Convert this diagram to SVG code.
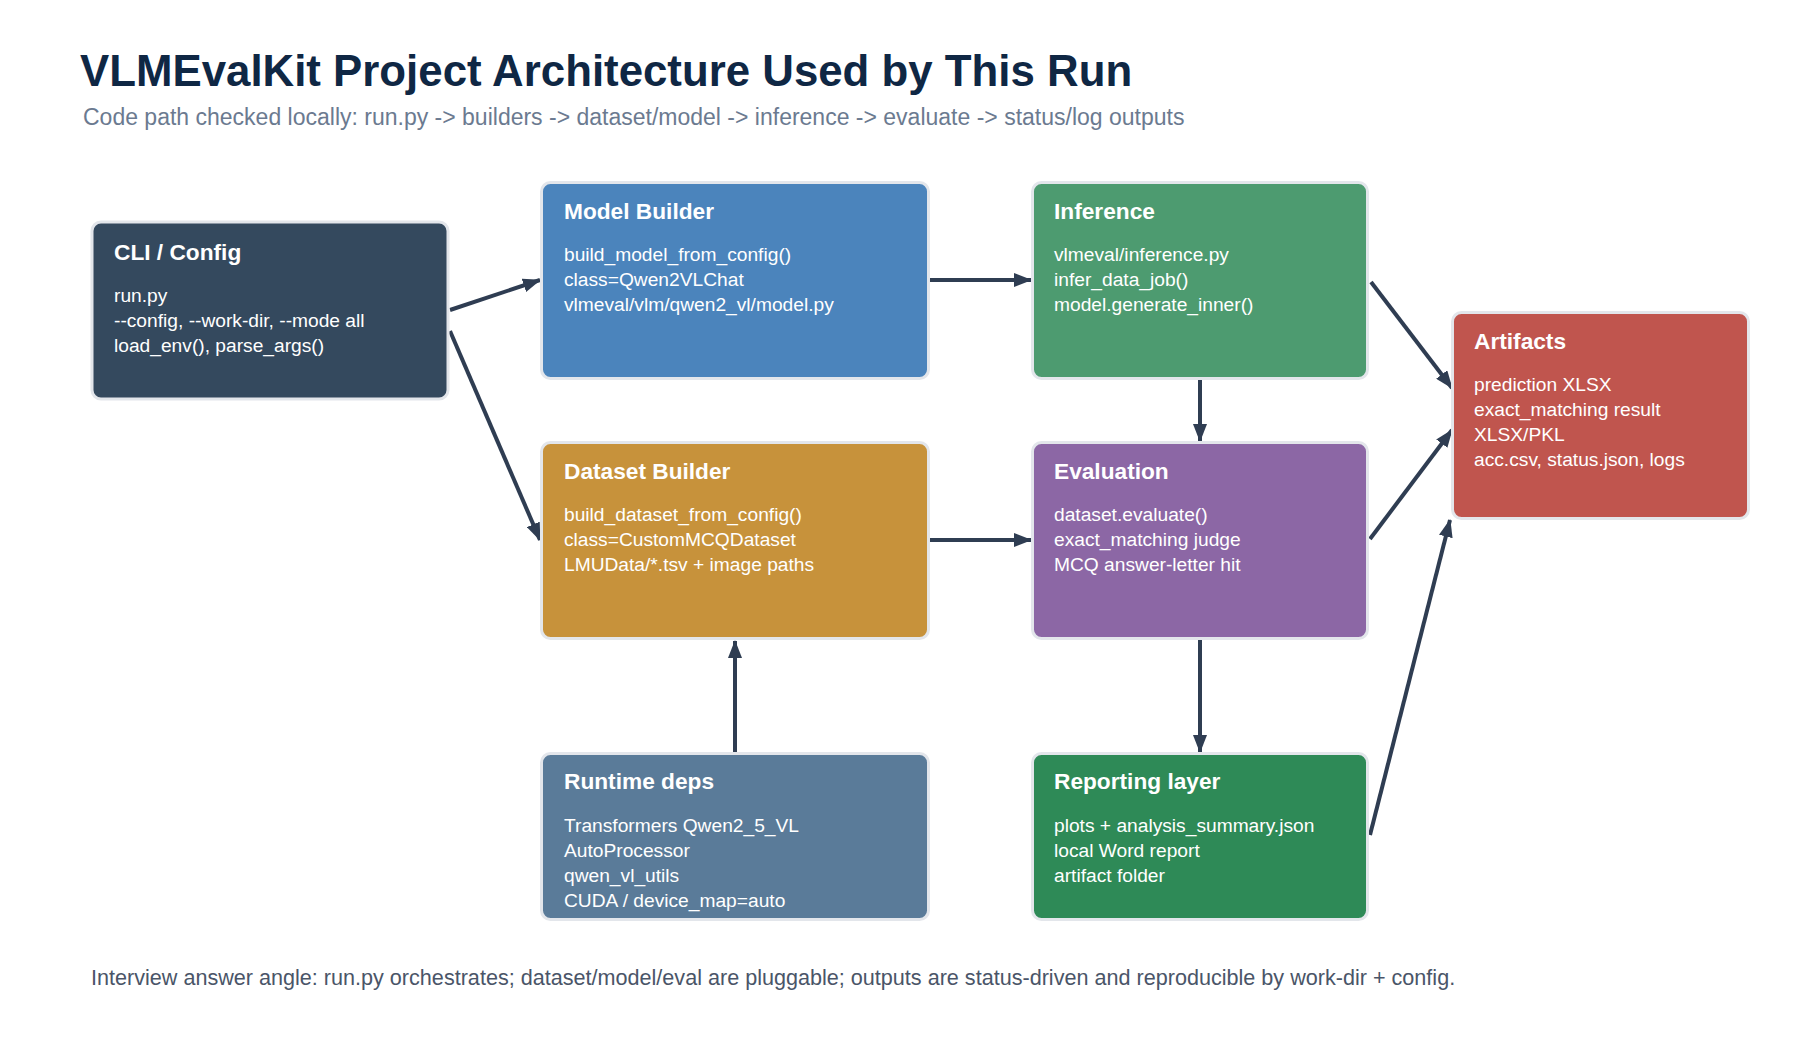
<svg xmlns="http://www.w3.org/2000/svg" width="1800" height="1050" viewBox="0 0 1800 1050">
<style>
.title{font-family:"Liberation Sans",Arial,sans-serif;font-weight:bold;font-size:43.8px;fill:#0f2744}
.sub{font-family:"Liberation Sans",Arial,sans-serif;font-size:23px;fill:#6b7a90}
.foot{font-family:"Liberation Sans",Arial,sans-serif;font-size:21.6px;fill:#4a5568}
.box{stroke:#e3e6eb;stroke-width:3}
.nt{font-family:"Liberation Sans",Arial,sans-serif;font-weight:bold;font-size:22.7px;fill:#ffffff}
.nb{font-family:"Liberation Sans",Arial,sans-serif;font-size:19.2px;fill:#ffffff}
.edge{stroke:#2f3d52;stroke-width:4;fill:none;marker-end:url(#ah)}
</style>
<defs>
<marker id="ah" markerUnits="userSpaceOnUse" markerWidth="18" markerHeight="14" refX="17" refY="7" orient="auto">
<path d="M0,0 L18,7 L0,14 z" fill="#2f3d52"/>
</marker>
</defs>
<rect width="1800" height="1050" fill="#ffffff"/>
<text class="title" x="80" y="86">VLMEvalKit Project Architecture Used by This Run</text>
<text class="sub" x="83" y="125">Code path checked locally: run.py -&gt; builders -&gt; dataset/model -&gt; inference -&gt; evaluate -&gt; status/log outputs</text>

<g id="connectors">
<line class="edge" x1="450" y1="310" x2="540" y2="280"/>
<line class="edge" x1="450" y1="331" x2="540" y2="540"/>
<line class="edge" x1="930" y1="280" x2="1031" y2="280"/>
<line class="edge" x1="930" y1="540" x2="1031" y2="540"/>
<line class="edge" x1="1200" y1="380" x2="1200" y2="441"/>
<line class="edge" x1="1200" y1="640" x2="1200" y2="752"/>
<line class="edge" x1="735" y1="752" x2="735" y2="641"/>
<line class="edge" x1="1371" y1="282" x2="1452" y2="388"/>
<line class="edge" x1="1370" y1="539" x2="1452" y2="430"/>
<line class="edge" x1="1370" y1="835" x2="1450" y2="520"/>
</g>

<g id="cli">
<rect class="box" x="92" y="222" width="356" height="177" rx="9" fill="#34495e"/>
<text class="nt" x="114" y="260">CLI / Config</text>
<text class="nb" x="114" y="302">run.py</text>
<text class="nb" x="114" y="327">--config, --work-dir, --mode all</text>
<text class="nb" x="114" y="352">load_env(), parse_args()</text>
</g>

<g id="model-builder">
<rect class="box" x="541.5" y="182.5" width="387" height="196" rx="9" fill="#4b84bc"/>
<text class="nt" x="564" y="219">Model Builder</text>
<text class="nb" x="564" y="261">build_model_from_config()</text>
<text class="nb" x="564" y="286">class=Qwen2VLChat</text>
<text class="nb" x="564" y="311">vlmeval/vlm/qwen2_vl/model.py</text>
</g>

<g id="inference">
<rect class="box" x="1032.5" y="182.5" width="335" height="196" rx="9" fill="#4d9b70"/>
<text class="nt" x="1054" y="219">Inference</text>
<text class="nb" x="1054" y="261">vlmeval/inference.py</text>
<text class="nb" x="1054" y="286">infer_data_job()</text>
<text class="nb" x="1054" y="311">model.generate_inner()</text>
</g>

<g id="artifacts">
<rect class="box" x="1452.5" y="312.5" width="296" height="206" rx="9" fill="#c0554e"/>
<text class="nt" x="1474" y="349">Artifacts</text>
<text class="nb" x="1474" y="391">prediction XLSX</text>
<text class="nb" x="1474" y="416">exact_matching result</text>
<text class="nb" x="1474" y="441">XLSX/PKL</text>
<text class="nb" x="1474" y="466">acc.csv, status.json, logs</text>
</g>

<g id="dataset-builder">
<rect class="box" x="541.5" y="442.5" width="387" height="196" rx="9" fill="#c7923b"/>
<text class="nt" x="564" y="479">Dataset Builder</text>
<text class="nb" x="564" y="521">build_dataset_from_config()</text>
<text class="nb" x="564" y="546">class=CustomMCQDataset</text>
<text class="nb" x="564" y="571">LMUData/*.tsv + image paths</text>
</g>

<g id="evaluation">
<rect class="box" x="1032.5" y="442.5" width="335" height="196" rx="9" fill="#8c67a5"/>
<text class="nt" x="1054" y="479">Evaluation</text>
<text class="nb" x="1054" y="521">dataset.evaluate()</text>
<text class="nb" x="1054" y="546">exact_matching judge</text>
<text class="nb" x="1054" y="571">MCQ answer-letter hit</text>
</g>

<g id="runtime-deps">
<rect class="box" x="541.5" y="753.5" width="387" height="166" rx="9" fill="#5a7b99"/>
<text class="nt" x="564" y="789">Runtime deps</text>
<text class="nb" x="564" y="832">Transformers Qwen2_5_VL</text>
<text class="nb" x="564" y="857">AutoProcessor</text>
<text class="nb" x="564" y="882">qwen_vl_utils</text>
<text class="nb" x="564" y="907">CUDA / device_map=auto</text>
</g>

<g id="reporting-layer">
<rect class="box" x="1032.5" y="753.5" width="335" height="166" rx="9" fill="#2e8a57"/>
<text class="nt" x="1054" y="789">Reporting layer</text>
<text class="nb" x="1054" y="832">plots + analysis_summary.json</text>
<text class="nb" x="1054" y="857">local Word report</text>
<text class="nb" x="1054" y="882">artifact folder</text>
</g>

<text class="foot" x="91" y="985">Interview answer angle: run.py orchestrates; dataset/model/eval are pluggable; outputs are status-driven and reproducible by work-dir + config.</text>
</svg>
